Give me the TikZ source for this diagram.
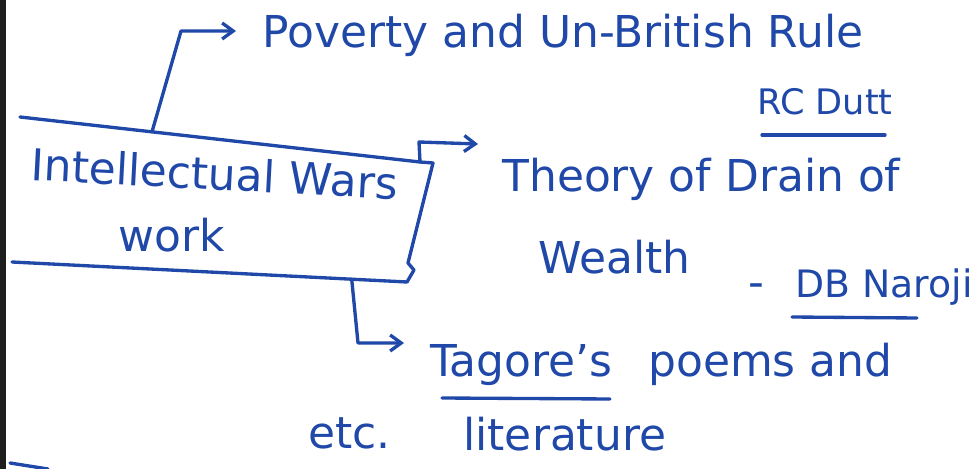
\documentclass[tikz,border=0pt]{standalone}
\usepackage{fontspec}
\setmainfont{DejaVu Sans}
\usepackage{tikz}
\usetikzlibrary{arrows.meta,positioning,calc}
\definecolor{ink}{RGB}{32,72,168}
\definecolor{edge}{RGB}{30,30,30}

\begin{document}
\begin{tikzpicture}[x=0.02cm, y=-0.02cm,
      pen/.style={ink, line width=1.9pt, line cap=round, line join=round},
      branch/.style={pen, -{Straight Barb[length=2.2mm, width=3.2mm]}},
      note/.style={ink, anchor=base west, inner sep=0pt,
                   font=\fontsize{25}{30}\selectfont},
      person/.style={note, font=\fontsize{21.5}{26}\selectfont},
      small/.style={note, font=\fontsize{20}{24}\selectfont}]
    \useasboundingbox (0,0) rectangle (973,469);
    % ----- scan edge
    \fill[edge] (0,0) rectangle (6,469);
    \draw[pen] (10,463) -- (48,469);
    % ----- the open box round the heading
    \coordinate (tl) at (20,117);
    \coordinate (tr) at (420,162);
    \coordinate (bl) at (12,262);
    \coordinate (br) at (407,282);
    \draw[pen] (tl) -- (tr) -- (433,163) -- (408,263) -- (414,270) -- (br);
    \draw[pen] (bl) -- (br);
    \node[note, rotate=-3] (intel) at (30,180) {Intellectual Wars};
    \node[note] (work) at (118,252) {work};
    % ----- upper branch
    \coordinate (up) at ($(tl)!0.33!(tr)$);
    \coordinate (povin) at (236,31);
    \node[note] (pov) at (262,48) {Poverty and Un-British Rule};
    \node[small] (dutt) at (757,115) {RC Dutt};
    \draw[branch] (up) -- (181,31) -- (povin);
    \draw[pen] ($(dutt.base west)+(5,20)$) -- ($(dutt.base west)+(128,20)$);
    % ----- middle branch
    \coordinate (thin) at (478,144);
    \node[note] (theory) at (502,192) {Theory of Drain of};
    \node[note] (wealth) at (538,274) {Wealth};
    \node[note] (dash) at (748,297) {-};
    \node[person] (naroji) at (795,297) {DB Naroji};
    \draw[branch] (tr) -- (419,142) -- (thin);
    \draw[pen] ($(naroji.base west)+(-3,20)$) -- ($(naroji.base west)+(122,21)$);
    % ----- lower branch
    \coordinate (low) at ($(bl)!0.86!(br)$);
    \coordinate (tagin) at (404,343);
    \node[note] (tagore) at (430,377) {Tagore's};
    \node[note, right=20pt of tagore.base east, anchor=base west] (poems) {poems and};
    \node[note] (lit) at (463,450) {literature};
    \node[note] (etc) at (308,448) {etc.};
    \draw[branch] (low) -- (358,343) -- (tagin);
    \draw[pen] ($(tagore.base west)+(12,21)$) -- ($(tagore.base west)+(180,22)$);
\end{tikzpicture}
\end{document}
